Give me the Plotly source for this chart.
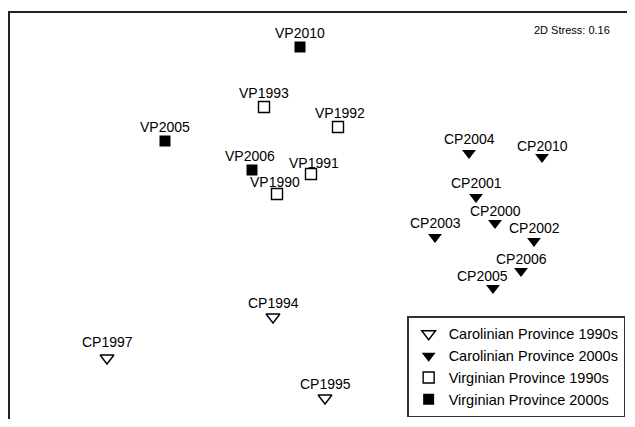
import plotly.graph_objects as go

# NMDS coordinates
cp90_names = ["CP1994", "CP1997", "CP1995"]
cp90_x = [-0.235, -1.065, 0.025]
cp90_y = [-0.485, -0.690, -0.890]

cp00_names = ["CP2004", "CP2010", "CP2001", "CP2000", "CP2003", "CP2002", "CP2006", "CP2005"]
cp00_x = [0.745, 1.110, 0.780, 0.875, 0.575, 1.070, 1.005, 0.865]
cp00_y = [0.335, 0.315, 0.115, -0.015, -0.085, -0.105, -0.255, -0.340]

vp90_names = ["VP1993", "VP1992", "VP1991", "VP1990"]
vp90_x = [-0.280, 0.090, -0.045, -0.215]
vp90_y = [0.565, 0.465, 0.230, 0.130]

vp00_names = ["VP2010", "VP2005", "VP2006"]
vp00_x = [-0.100, -0.775, -0.340]
vp00_y = [0.865, 0.395, 0.250]

# label nudges (pixels) for readability
label_dx = {"CP2005": -11, "VP2006": -2, "VP1990": -2, "VP1991": 3, "VP1992": 2}
label_dy = {"VP1990": 12, "VP1991": 11, "CP2010": 11, "CP2000": 12, "CP2006": 12, "CP2005": 12,
            "CP2002": 13, "CP1997": 16}

FONT = "Liberation Sans, Arial, sans-serif"

fig = go.Figure()
groups = [
    ("Carolinian Province 1990s", cp90_names, cp90_x, cp90_y, "triangle-down-open", 12, 1.4),
    ("Carolinian Province 2000s", cp00_names, cp00_x, cp00_y, "triangle-down", 12, 0),
    ("Virginian Province 1990s", vp90_names, vp90_x, vp90_y, "square-open", 11, 1.4),
    ("Virginian Province 2000s", vp00_names, vp00_x, vp00_y, "square", 11, 0),
]
annotations = []
for name, labels, xs, ys, sym, size, lw in groups:
    fig.add_trace(go.Scatter(
        x=xs, y=ys, mode="markers", name=name,
        marker=dict(symbol=sym, size=size, color="black", line=dict(width=lw, color="black")),
    ))
    for lab, x, y in zip(labels, xs, ys):
        annotations.append(dict(
            x=x, y=y, xref="x", yref="y", text=lab, showarrow=False,
            xshift=label_dx.get(lab, 0), yshift=label_dy.get(lab, 14),
            font=dict(family=FONT, size=14, color="black"),
            xanchor="center", yanchor="middle",
        ))

annotations.append(dict(
    x=0.975, y=0.958, xref="paper", yref="paper", text="2D Stress: 0.16", showarrow=False,
    xanchor="right", yanchor="middle", font=dict(family=FONT, size=11, color="black"),
))

fig.update_layout(
    width=619, height=411,
    margin=dict(l=2, r=0, t=5, b=0),
    paper_bgcolor="white", plot_bgcolor="white",
    showlegend=True,
    legend=dict(
        x=0.997, y=0.004, xanchor="right", yanchor="bottom",
        bgcolor="white", bordercolor="#333", borderwidth=1.5,
        font=dict(family=FONT, size=14.5, color="black"),
        tracegroupgap=0, itemsizing="trace",
    ),
    annotations=annotations,
    font=dict(family=FONT),
)
fig.update_xaxes(range=[-1.55, 1.535], showgrid=False, zeroline=False, showticklabels=False,
                 ticks="", showline=True, linecolor="#222", linewidth=2, side="top", mirror=False)
fig.update_yaxes(range=[-0.995, 1.035], showgrid=False, zeroline=False, showticklabels=False,
                 ticks="", showline=True, linecolor="#222", linewidth=2, mirror=False)

fig.write_html("out.html")
